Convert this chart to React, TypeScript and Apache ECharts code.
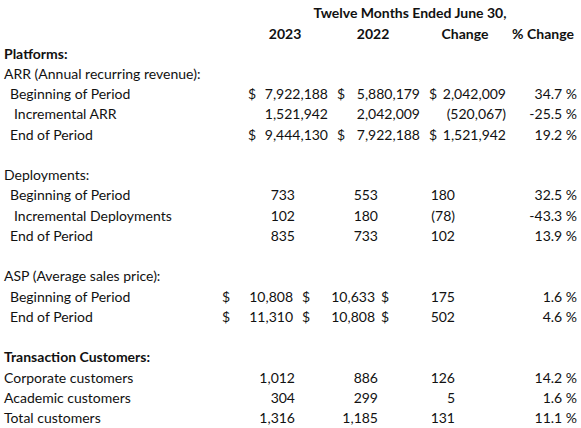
import { useEffect, useRef } from "react";
import * as echarts from "echarts";

// column headers
const yearHeader = "Twelve Months Ended June 30,";
const columns = ["2023", "2022", "Change", "% Change"];

// ARR (Annual recurring revenue)
const arrBeginning = [7922188, 5880179, 2042009, 34.7];
const arrIncremental = [1521942, 2042009, -520067, -25.5];
const arrEnd = [9444130, 7922188, 1521942, 19.2];

// Deployments
const deployBeginning = [733, 553, 180, 32.5];
const deployIncremental = [102, 180, -78, -43.3];
const deployEnd = [835, 733, 102, 13.9];

// ASP (Average sales price)
const aspBeginning = [10808, 10633, 175, 1.6];
const aspEnd = [11310, 10808, 502, 4.6];

// Transaction customers
const corporateCustomers = [1012, 886, 126, 14.2];
const academicCustomers = [304, 299, 5, 1.6];
const totalCustomers = [1316, 1185, 131, 11.1];

type Kind = "arr" | "arrPlain" | "plain" | "asp";
interface Row {
  label: string;
  indent?: number;
  bold?: boolean;
  values?: number[];
  kind?: Kind;
}

const rows: (Row | null)[] = [
  { label: "Platforms:", bold: true },
  { label: "ARR (Annual recurring revenue):" },
  { label: "Beginning of Period", indent: 6, values: arrBeginning, kind: "arr" },
  { label: "Incremental ARR", indent: 10, values: arrIncremental, kind: "arrPlain" },
  { label: "End of Period", indent: 6, values: arrEnd, kind: "arr" },
  null,
  { label: "Deployments:" },
  { label: "Beginning of Period", indent: 6, values: deployBeginning, kind: "plain" },
  { label: "Incremental Deployments", indent: 10, values: deployIncremental, kind: "plain" },
  { label: "End of Period", indent: 6, values: deployEnd, kind: "plain" },
  null,
  { label: "ASP (Average sales price):" },
  { label: "Beginning of Period", indent: 6, values: aspBeginning, kind: "asp" },
  { label: "End of Period", indent: 6, values: aspEnd, kind: "asp" },
  null,
  { label: "Transaction Customers:", bold: true },
  { label: "Corporate customers", values: corporateCustomers, kind: "plain" },
  { label: "Academic customers", values: academicCustomers, kind: "plain" },
  { label: "Total customers", values: totalCustomers, kind: "plain" },
];

const FONT = "Lato, 'Open Sans', sans-serif";
const COLOR = "#111";

function fmtNum(v: number) {
  const s = Math.abs(v).toLocaleString("en-US");
  return v < 0 ? `(${s})` : s;
}
function fmtPct(v: number) {
  return `${v.toFixed(1)} %`;
}

function App() {
  const chartRef = useRef<HTMLDivElement>(null);

  useEffect(() => {
    document.body.style.margin = "0";
    const chart = echarts.init(chartRef.current, null, { renderer: "svg" });

    const els: any[] = [];
    const txt = (text: string, x: number, y: number, align: string, bold = false) => {
      els.push({
        type: "text",
        x,
        y,
        style: {
          text,
          fill: COLOR,
          font: `${bold ? "bold " : ""}14px ${FONT}`,
          align,
          verticalAlign: "middle",
        },
      });
    };

    // header
    txt(yearHeader, 410, 12, "center", true);
    const headerX = [285, 373, 465, 543];
    columns.forEach((c, i) => txt(c, headerX[i], 33, "center", true));

    const rightEdges: Record<Kind, number[]> = {
      arr: [328, 420, 506, 577],
      arrPlain: [328, 420, 506, 577],
      plain: [295, 378, 455, 577],
      asp: [293, 375, 455, 577],
    };

    const y0 = 53;
    const step = 20.25;
    rows.forEach((row, i) => {
      if (!row) return;
      const y = y0 + i * step;
      txt(row.label, 4 + (row.indent ?? 0), y, "left", row.bold);
      if (!row.values || !row.kind) return;
      const edges = rightEdges[row.kind];
      row.values.forEach((v, j) => {
        txt(j === 3 ? fmtPct(v) : fmtNum(v), edges[j], y, "right");
      });
      if (row.kind === "arr") {
        [248, 337, 429].forEach((x) => txt("$", x, y, "left"));
      }
      if (row.kind === "asp") {
        [222, 302, 381].forEach((x) => txt("$", x, y, "left"));
      }
    });

    chart.setOption({
      animation: false,
      backgroundColor: "#fff",
      graphic: { elements: els },
    });

    return () => chart.dispose();
  }, []);

  return <div ref={chartRef} style={{ width: 581, height: 428 }} />;
}

export default App;
